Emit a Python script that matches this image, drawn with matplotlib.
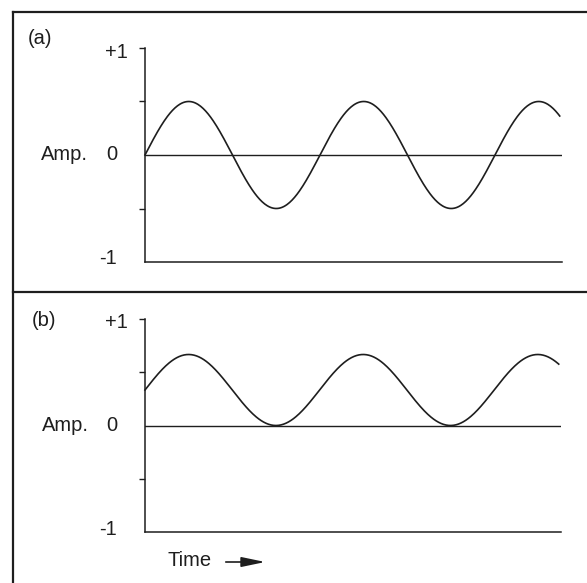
import numpy as np
import matplotlib.pyplot as plt
from matplotlib.lines import Line2D
from matplotlib.patches import FancyArrowPatch

plt.rcParams['font.family'] = ['Liberation Sans', 'DejaVu Sans']

# wave parameters (amplitude units, time in cycles)
panel_labels = ['(a)', '(b)']
amplitudes = [0.5, 1 / 3]
offsets = [0.0, 1 / 3]
cycles_shown = 2.37
x_extent = 2.383
tick_values = [1, 0, -1]
tick_texts = ['+1', '0', '-1']
minor_ticks = [0.5, -0.5]

ink = '#1e1e1e'
W, H = 587, 583
fs = 14.5


def fx(px):
    return px / W


def fy(py):
    return 1 - py / H


fig = plt.figure(figsize=(W / 100, H / 100), dpi=100)

# axes boxes in pixel terms: (left, top_of_+1, bottom_of_-1, right)
boxes = [(145, 48, 262, 562), (145, 319, 532, 561)]
label_pos = [(40, 39), (44, 320)]
label_y = [[0.955, 0.0, -0.97], [0.97, 0.0, -0.98]]

for i, (l, t, b, r) in enumerate(boxes):
    ax = fig.add_axes([fx(l), fy(b), fx(r) - fx(l), fy(t) - fy(b)])
    tt = np.linspace(0, cycles_shown, 500)
    ax.plot(tt, offsets[i] + amplitudes[i] * np.sin(2 * np.pi * tt),
            color=ink, lw=1.2, clip_on=False)
    ax.axhline(0, color=ink, lw=1.0)
    ax.set_xlim(0, x_extent)
    ax.set_ylim(-1, 1)
    for s in ['top', 'right']:
        ax.spines[s].set_visible(False)
    for s in ['left', 'bottom']:
        ax.spines[s].set_linewidth(1.1)
        ax.spines[s].set_color(ink)
    ax.set_xticks([])
    ax.set_yticks([1] + minor_ticks)
    ax.set_yticklabels([])
    ax.tick_params(axis='y', length=4, width=1.0, color=ink, direction='out')
    trans = ax.get_yaxis_transform()
    for val, txt, yy in zip(tick_values, tick_texts, label_y[i]):
        xx = -0.041 if txt == '+1' else -0.067
        ax.text(xx, yy, txt, transform=trans, ha='right', va='center',
                fontsize=fs, color=ink)
    ax.text(-0.192, 0, 'Amp.', transform=trans, ha='center', va='center',
            fontsize=fs, color=ink)
    ax.patch.set_alpha(0)
    px, py = label_pos[i]
    fig.text(fx(px), fy(py), panel_labels[i], ha='center', va='center',
             fontsize=fs, color=ink)

# Time arrow under panel (b)
fig.text(fx(190), fy(560), 'Time', ha='center', va='center', fontsize=fs, color=ink)
fig.patches.append(FancyArrowPatch(
    (fx(223), fy(562)), (fx(268), fy(562)), transform=fig.transFigure,
    arrowstyle='-|>,head_length=1.2,head_width=0.25', mutation_scale=12,
    color=ink, lw=1.2))

# frame of the printed figure (no right edge visible in the scan)
frame = [((13, 13), (12, 583)), ((13, 587), (12, 12)),
         ((13, 587), (292, 292))]
for xs, ys in frame:
    fig.add_artist(Line2D([fx(xs[0]), fx(xs[1])], [fy(ys[0]), fy(ys[1])],
                          transform=fig.transFigure, color=ink, lw=1.6))

fig.savefig('out.png', dpi=100)
